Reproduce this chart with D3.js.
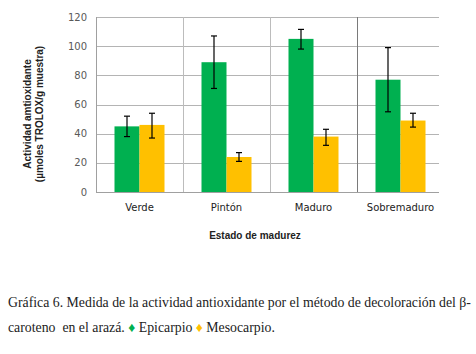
<!DOCTYPE html>
<html>
<head>
<meta charset="utf-8">
<script src="https://cdn.jsdelivr.net/npm/d3@7"></script>
<style>
  body { margin: 0; background: #fff; }
  svg { display: block; }
</style>
</head>
<body>
<div id="chart"></div>
<script>
// estados de madurez y series (valor medio + barra de error)
var categories = ['Verde', 'Pintón', 'Maduro', 'Sobremaduro'];
var epicarpio = [45, 89, 105, 77];
var epicarpioLow = [38, 71, 98, 55];
var epicarpioHigh = [52, 107, 111.5, 99];
var mesocarpio = [46, 24, 38, 49];
var mesocarpioLow = [37, 21, 32, 44.5];
var mesocarpioHigh = [54, 27, 43, 54];
var yTicks = [0, 20, 40, 60, 80, 100, 120];

var width = 476,
    height = 354,
    pLeft = 96, pRight = 444, pTop = 17, pBottom = 192;

var svg = d3.select('#chart').append('svg')
    .attr('width', width)
    .attr('height', height);

var x = d3.scaleBand().domain(categories).range([pLeft, pRight]);
var y = d3.scaleLinear().domain([0, 120]).range([pBottom, pTop]);
var barW = 25;

// gridlines
svg.selectAll('line.grid')
    .data(yTicks.slice(1))
    .enter()
    .append('line')
    .attr('x1', pLeft).attr('x2', pRight - 5)
    .attr('y1', function(d) { return Math.round(y(d)) + 0.5; })
    .attr('y2', function(d) { return Math.round(y(d)) + 0.5; })
    .style('stroke', '#b4b4b4')
    .style('stroke-width', 1);

// category dividers
svg.selectAll('line.div')
    .data(categories.slice(1))
    .enter()
    .append('line')
    .attr('x1', function(d) { return Math.round(x(d)) + 0.5; })
    .attr('x2', function(d) { return Math.round(x(d)) + 0.5; })
    .attr('y1', pTop).attr('y2', pBottom)
    .style('stroke', function(d, i) { return i == 2 ? '#7a7a7a' : '#bcbcbc'; });

// left axis line and bottom axis line
svg.append('line')
    .attr('x1', pLeft + 0.5).attr('x2', pLeft + 0.5)
    .attr('y1', pTop).attr('y2', pBottom)
    .style('stroke', '#a0a0a0');
svg.append('line')
    .attr('x1', pLeft).attr('x2', pRight - 5)
    .attr('y1', pBottom + 0.5).attr('y2', pBottom + 0.5)
    .style('stroke', '#a0a0a0');

// y tick labels
svg.selectAll('text.ytick')
    .data(yTicks)
    .enter()
    .append('text')
    .attr('x', 87)
    .attr('y', function(d) { return y(d) + 3.5; })
    .attr('text-anchor', 'end')
    .style('font-family', 'DejaVu Sans, sans-serif')
    .style('font-size', '10px')
    .style('fill', '#595959')
    .text(function(d) { return d; });

// bars
var groups = svg.selectAll('g.cat')
    .data(categories)
    .enter()
    .append('g')
    .attr('transform', function(d) { return 'translate(' + (x(d) + x.bandwidth() / 2) + ',0)'; });

groups.append('rect')
    .attr('x', -barW)
    .attr('width', barW)
    .attr('y', function(d, i) { return y(epicarpio[i]); })
    .attr('height', function(d, i) { return pBottom - y(epicarpio[i]); })
    .style('fill', '#00b050');

groups.append('rect')
    .attr('x', 0)
    .attr('width', barW)
    .attr('y', function(d, i) { return y(mesocarpio[i]); })
    .attr('height', function(d, i) { return pBottom - y(mesocarpio[i]); })
    .style('fill', '#ffc000');

function errBar(g, cx, lo, hi) {
    g.append('line')
        .attr('x1', cx).attr('x2', cx)
        .attr('y1', function(d, i) { return y(hi[i]); })
        .attr('y2', function(d, i) { return y(lo[i]); })
        .style('stroke', '#000').style('stroke-width', 1.2);
    [hi, lo].forEach(function(arr) {
        g.append('line')
            .attr('x1', cx - 3).attr('x2', cx + 3)
            .attr('y1', function(d, i) { return y(arr[i]); })
            .attr('y2', function(d, i) { return y(arr[i]); })
            .style('stroke', '#000').style('stroke-width', 1.2);
    });
}
errBar(groups, -barW / 2, epicarpioLow, epicarpioHigh);
errBar(groups, barW / 2, mesocarpioLow, mesocarpioHigh);

// x tick labels
svg.selectAll('text.xtick')
    .data(categories)
    .enter()
    .append('text')
    .attr('x', function(d) { return x(d) + x.bandwidth() / 2; })
    .attr('y', 211)
    .attr('text-anchor', 'middle')
    .style('font-family', 'DejaVu Sans, sans-serif')
    .style('font-size', '10px')
    .style('fill', '#222')
    .text(function(d) { return d; });

// axis titles
svg.append('text')
    .attr('x', 255).attr('y', 239)
    .attr('text-anchor', 'middle')
    .style('font-family', 'Liberation Sans, Arial, sans-serif')
    .style('font-weight', 'bold')
    .style('font-size', '10px')
    .style('fill', '#222')
    .text('Estado de madurez');

var yt = svg.append('text')
    .attr('transform', 'translate(31,114) rotate(-90)')
    .attr('text-anchor', 'middle')
    .style('font-family', 'Liberation Sans, Arial, sans-serif')
    .style('font-weight', 'bold')
    .style('font-size', '10px')
    .style('fill', '#222');
yt.append('tspan').attr('x', 0).attr('dy', 0).text('Actividad amtioxidante');
yt.append('tspan').attr('x', 0).attr('dy', 12).text('(µmoles TROLOX/g muestra)');

// caption
var cap = svg.append('g')
    .style('font-family', 'Liberation Serif, Times New Roman, serif')
    .style('font-size', '13.8px')
    .style('fill', '#222');
cap.append('text').attr('x', 8).attr('y', 307)
    .text('Gráfica 6. Medida de la actividad antioxidante por el método de decoloración del β-');
var l2 = cap.append('text').attr('x', 8).attr('y', 332).attr('xml:space', 'preserve');
l2.append('tspan').text('caroteno  en el arazá. ');
l2.append('tspan').style('fill', '#00b050').text('♦');
l2.append('tspan').text(' Epicarpio ');
l2.append('tspan').style('fill', '#ffc000').text('♦');
l2.append('tspan').text(' Mesocarpio.');
</script>
</body>
</html>
